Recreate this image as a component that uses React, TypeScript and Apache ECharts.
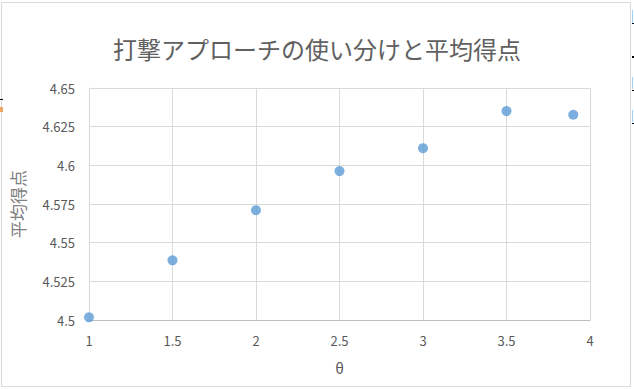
import React, { useEffect, useRef } from "react";
import * as echarts from "echarts";

const titleText = "打撃アプローチの使い分けと平均得点";
const xAxisName = "θ";
const yAxisName = "平均得点";
const thetaValues = [1, 1.5, 2, 2.5, 3, 3.5, 3.9];
const avgScores = [4.5017, 4.5386, 4.571, 4.5963, 4.6111, 4.6351, 4.6327];

export default function App() {
  const ref = useRef<HTMLDivElement>(null);
  useEffect(() => {
    if (!ref.current) return;
    const chart = echarts.init(ref.current, null, { renderer: "svg" });
    const font = '"Noto Sans CJK JP", "Noto Sans", sans-serif';
    chart.setOption({
      animation: false,
      backgroundColor: "#ffffff",
      textStyle: { fontFamily: font },
      title: {
        text: titleText,
        left: "center",
        top: 31,
        textStyle: { fontSize: 24, fontWeight: "normal", color: "#606060", fontFamily: font },
      },
      grid: { left: 89, right: 44, top: 88, bottom: 69, containLabel: false },
      xAxis: {
        type: "value",
        min: 1,
        max: 4,
        interval: 0.5,
        name: xAxisName,
        nameLocation: "middle",
        nameGap: 40,
        nameTextStyle: { fontSize: 15, color: "#595959", fontFamily: font },
        axisLine: { show: true, lineStyle: { color: "#bfbfbf", width: 1 } },
        axisTick: { show: false },
        axisLabel: {
          margin: 14,
          fontSize: 13,
          color: "#595959",
          fontFamily: font,
          formatter: (v: number) => String(parseFloat(v.toFixed(3))),
        },
        splitLine: { show: true, lineStyle: { color: "#d9d9d9", width: 1 } },
      },
      yAxis: {
        type: "value",
        min: 4.5,
        max: 4.65,
        interval: 0.025,
        name: yAxisName,
        nameLocation: "middle",
        nameGap: 63,
        nameRotate: 90,
        nameTextStyle: { fontSize: 17, color: "#808080", fontFamily: font },
        axisLine: { show: true, lineStyle: { color: "#d9d9d9", width: 1 } },
        axisTick: { show: false },
        axisLabel: {
          margin: 14,
          fontSize: 13,
          color: "#595959",
          fontFamily: font,
          formatter: (v: number) => String(parseFloat(v.toFixed(3))),
        },
        splitLine: { show: true, lineStyle: { color: "#d9d9d9", width: 1 } },
      },
      graphic: [
        {
          type: "rect",
          shape: { x: 1.5, y: 2.5, width: 629, height: 384 },
          style: { fill: "none", stroke: "#d9d9d9", lineWidth: 1 },
          silent: true,
          z: -1,
        },
        { type: "rect", shape: { x: 0, y: 99, width: 3, height: 1 }, style: { fill: "#000" } },
        { type: "rect", shape: { x: 0, y: 107, width: 3, height: 5 }, style: { fill: "#f4a460" } },
        { type: "rect", shape: { x: 632, y: 10, width: 1, height: 13 }, style: { fill: "#9fd3f5" } },
        { type: "rect", shape: { x: 632, y: 23, width: 2, height: 1 }, style: { fill: "#000" } },
        { type: "rect", shape: { x: 632, y: 56, width: 2, height: 2 }, style: { fill: "#000" } },
        { type: "rect", shape: { x: 632, y: 77, width: 1, height: 12 }, style: { fill: "#9fd3f5" } },
        { type: "rect", shape: { x: 632, y: 90, width: 2, height: 1 }, style: { fill: "#000" } },
        { type: "rect", shape: { x: 632, y: 110, width: 1, height: 12 }, style: { fill: "#9fd3f5" } },
        { type: "rect", shape: { x: 632, y: 123, width: 2, height: 1 }, style: { fill: "#000" } },
      ],
      series: [
        {
          type: "scatter",
          data: thetaValues.map((x, i) => [x, avgScores[i]]),
          symbol: "circle",
          symbolSize: 10,
          itemStyle: { color: "#5b9bd5" },
        },
      ],
    });
    return () => chart.dispose();
  }, []);
  return (
    <div
      ref={ref}
      style={{ position: "fixed", left: 0, top: 0, width: 634, height: 389 }}
    />
  );
}
